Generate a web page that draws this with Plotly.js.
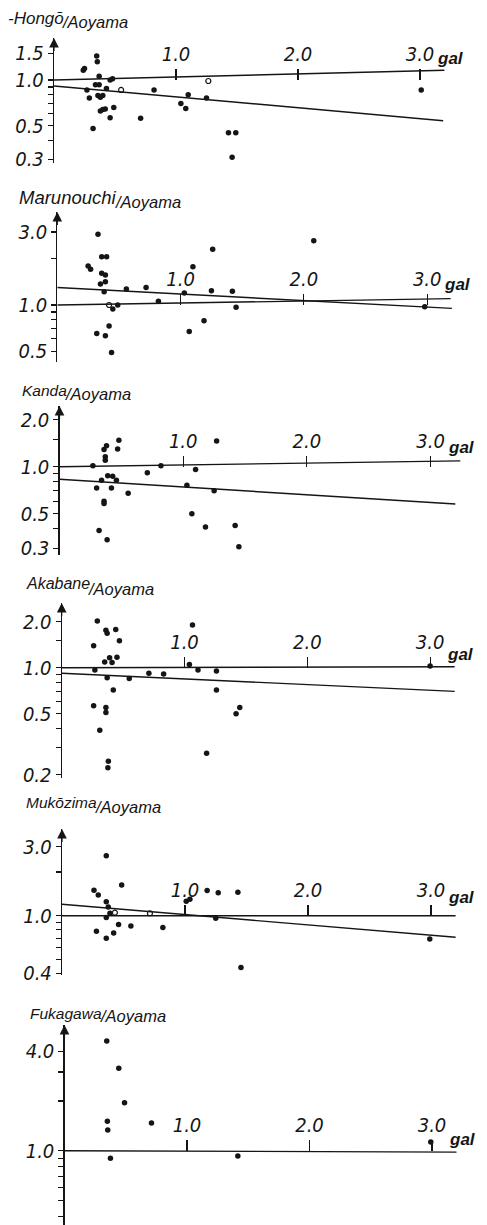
<!DOCTYPE html>
<html><head><meta charset="utf-8">
<script src="https://cdn.plot.ly/plotly-3.0.1.min.js"></script>
<style>body{margin:0;background:#fff}#chart{width:487px;height:1225px}</style>
</head><body><div id="chart"></div>
<script>
// ---------------- DATA ----------------
const stationNames = ['-Hongō', 'Marunouchi', 'Kanda', 'Akabane', 'Mukōzima', 'Fukagawa'];
const referenceName = 'Aoyama';
const xTickVals = [1, 2, 3];
const xTickText = ['1.0', '2.0', '3.0'];
const xUnit = 'gal';

// Hongō / Aoyama
const hongoX = [0.24,0.25,0.35,0.355,0.37,0.27,0.34,0.37,0.29,0.36,0.38,0.40,0.43,0.46,0.48,0.38,0.40,0.42,0.49,0.46,0.32,0.71,0.82,1.04,1.08,1.10,1.25,1.43,1.49,1.46,3.01];
const hongoY = [1.16,1.19,1.44,1.32,1.06,0.86,0.93,0.93,0.76,0.79,0.77,0.79,0.88,1.00,1.02,0.625,0.64,0.645,0.66,0.565,0.48,0.56,0.86,0.70,0.65,0.80,0.76,0.45,0.45,0.31,0.86];
const hongoOpenX = [0.55, 1.265];
const hongoOpenY = [0.86, 0.985];
const hongoLineAX = [0, 3.2],  hongoLineAY = [1.0, 1.16];
const hongoLineBX = [0, 3.19], hongoLineBY = [0.913, 0.54];
const hongoTickVals = [0.3,0.4,0.5,0.6,0.7,0.8,0.9,1.0,1.5];
const hongoTickText = ['0.3','','0.5','','','','','1.0','1.5'];

// Marunouchi / Aoyama
const maruX = [0.33,0.36,0.40,0.25,0.27,0.36,0.39,0.39,0.35,0.38,0.45,0.49,0.56,0.72,0.82,1.03,1.10,1.26,1.25,1.42,1.45,1.19,1.07,0.42,0.32,0.39,0.44,2.08,2.98];
const maruY = [2.90,2.07,2.07,1.80,1.71,1.61,1.57,1.42,1.37,1.22,0.94,1.00,1.27,1.30,1.06,1.20,1.78,2.31,1.24,1.23,0.966,0.79,0.67,0.73,0.65,0.63,0.49,2.63,0.975];
const maruOpenX = [0.42];
const maruOpenY = [1.0];
const maruLineAX = [0, 3.19], maruLineAY = [1.0, 1.10];
const maruLineBX = [0, 3.2],  maruLineBY = [1.30, 0.95];
const maruTickVals = [0.5,0.6,0.7,0.8,0.9,1.0,2.0,3.0];
const maruTickText = ['0.5','','','','','1.0','','3.0'];

// Kanda / Aoyama
const kandaX = [0.27,0.36,0.38,0.37,0.37,0.48,0.47,0.39,0.34,0.43,0.46,0.30,0.42,0.555,0.36,0.36,0.32,0.385,0.71,0.82,1.10,1.03,1.27,1.25,1.07,1.18,1.42,1.45];
const kandaY = [1.015,1.29,1.36,1.16,1.10,1.48,1.30,0.876,0.82,0.87,0.82,0.73,0.73,0.675,0.58,0.60,0.39,0.34,0.915,1.015,0.96,0.76,1.46,0.70,0.50,0.41,0.42,0.307];
const kandaLineAX = [0, 3.24], kandaLineAY = [1.0, 1.09];
const kandaLineBX = [0, 3.2],  kandaLineBY = [0.83, 0.577];
const kandaTickVals = [0.3,0.4,0.5,0.6,0.7,0.8,0.9,1.0,1.5,2.0];
const kandaTickText = ['0.3','','0.5','','','','','1.0','','2.0'];

// Akabane / Aoyama
const akabaneX = [0.29,0.36,0.37,0.44,0.47,0.26,0.39,0.35,0.41,0.45,0.27,0.37,0.42,0.55,0.71,0.83,1.04,1.065,1.11,1.26,1.26,0.26,0.36,0.36,0.31,0.38,0.376,1.18,1.42,1.45,3.00];
const akabaneY = [2.02,1.76,1.68,1.78,1.50,1.39,1.16,1.09,1.08,1.17,0.966,0.86,0.715,0.85,0.92,0.91,1.05,1.90,0.966,0.95,0.715,0.565,0.55,0.51,0.39,0.245,0.222,0.276,0.50,0.55,1.025];
const akabaneLineAX = [0, 3.2], akabaneLineAY = [1.0, 1.015];
const akabaneLineBX = [0, 3.2], akabaneLineBY = [0.92, 0.70];
const akabaneTickVals = [0.2,0.3,0.4,0.5,0.6,0.7,0.8,0.9,1.0,1.5,2.0];
const akabaneTickText = ['0.2','','','0.5','','','','','1.0','','2.0'];

// Mukōzima / Aoyama
const mukoX = [0.36,0.26,0.295,0.485,0.36,0.376,0.39,0.36,0.46,0.56,0.28,0.42,0.36,0.82,1.01,1.04,1.18,1.27,1.43,1.25,1.455,2.99];
const mukoY = [2.59,1.50,1.39,1.63,1.25,1.15,1.04,0.97,0.87,0.85,0.78,0.76,0.70,0.83,1.26,1.30,1.49,1.44,1.45,0.96,0.44,0.69];
const mukoOpenX = [0.43, 0.715];
const mukoOpenY = [1.05, 1.04];
const mukoLineAX = [0, 3.2], mukoLineAY = [1.0, 1.0];
const mukoLineBX = [0, 3.2], mukoLineBY = [1.20, 0.71];
const mukoTickVals = [0.4,0.5,0.6,0.7,0.8,0.9,1.0,2.0,3.0];
const mukoTickText = ['0.4','','','','','','1.0','','3.0'];

// Fukagawa / Aoyama
const fukaX = [0.345,0.443,0.49,0.35,0.353,0.71,0.375,1.415,2.99];
const fukaY = [4.62,3.16,1.95,1.51,1.335,1.47,0.90,0.93,1.13];
const fukaLineAX = [0, 3.2], fukaLineAY = [1.0, 0.98];
const fukaTickVals = [0.4,0.5,0.6,0.7,0.8,0.9,1.0,2.0,3.0,4.0];
const fukaTickText = ['0.4','','','','','','1.0','','','4.0'];

// ---------------- LAYOUT (pixel geometry of each panel) ----------------
const W = 487, H = 1225, XR = 470;
const geom = [
  {px0:54,   g:122,   py1:80,     s:152, top:38,   bottom:163,  slash:62,  nameY:19,   aoY:22,   nameSize:17,   galShift:22},
  {px0:57.3, g:123.3, py1:305,    s:153, top:212,  bottom:362,  slash:115, nameY:197,  aoY:202,  nameSize:18.5, galShift:21},
  {px0:59.5, g:123.7, py1:466.7,  s:156, top:406,  bottom:555,  slash:65,  nameY:390,  aoY:394,  nameSize:15.5, galShift:19},
  {px0:61.7, g:122.8, py1:667.7,  s:153, top:603,  bottom:778,  slash:88,  nameY:584,  aoY:589,  nameSize:16,   galShift:13},
  {px0:62,   g:123,   py1:915.7,  s:145, top:829,  bottom:975,  slash:95,  nameY:802,  aoY:807,  nameSize:15.5, galShift:18},
  {px0:64.5, g:122.5, py1:1150.7, s:165, top:1025, bottom:1225, slash:100, nameY:1013, aoY:1016, nameSize:15.5, galShift:11}
];
const panelData = [
  {x:hongoX, y:hongoY, ox:hongoOpenX, oy:hongoOpenY, ax:hongoLineAX, ay:hongoLineAY, bx:hongoLineBX, by:hongoLineBY, tv:hongoTickVals, tt:hongoTickText},
  {x:maruX, y:maruY, ox:maruOpenX, oy:maruOpenY, ax:maruLineAX, ay:maruLineAY, bx:maruLineBX, by:maruLineBY, tv:maruTickVals, tt:maruTickText},
  {x:kandaX, y:kandaY, ax:kandaLineAX, ay:kandaLineAY, bx:kandaLineBX, by:kandaLineBY, tv:kandaTickVals, tt:kandaTickText},
  {x:akabaneX, y:akabaneY, ax:akabaneLineAX, ay:akabaneLineAY, bx:akabaneLineBX, by:akabaneLineBY, tv:akabaneTickVals, tt:akabaneTickText},
  {x:mukoX, y:mukoY, ox:mukoOpenX, oy:mukoOpenY, ax:mukoLineAX, ay:mukoLineAY, bx:mukoLineBX, by:mukoLineBY, tv:mukoTickVals, tt:mukoTickText},
  {x:fukaX, y:fukaY, ax:fukaLineAX, ay:fukaLineAY, tv:fukaTickVals, tt:fukaTickText}
];

const INK = '#151515';
const tickFont = {family:'Liberation Sans Narrow, DejaVu Sans Condensed, Liberation Sans, sans-serif', size:20, style:'italic', color:INK};
const titleFam = 'Liberation Sans, sans-serif';

const traces = [];
const layout = {
  width: W, height: H, margin:{l:0,r:0,t:0,b:0},
  paper_bgcolor:'#fff', plot_bgcolor:'rgba(0,0,0,0)',
  showlegend:false, annotations:[]
};

panelData.forEach((d, i) => {
  const G = geom[i];
  const n = i === 0 ? '' : String(i + 1);
  const xa = 'x' + n, ya = 'y' + n;
  const lineStyle = {color:INK, width:1.4};
  if (d.ax) traces.push({type:'scatter', mode:'lines', x:d.ax, y:d.ay, xaxis:xa, yaxis:ya, line:lineStyle, hoverinfo:'skip', cliponaxis:false});
  if (d.bx) traces.push({type:'scatter', mode:'lines', x:d.bx, y:d.by, xaxis:xa, yaxis:ya, line:lineStyle, hoverinfo:'skip', cliponaxis:false});
  traces.push({type:'scatter', mode:'markers', x:d.x, y:d.y, xaxis:xa, yaxis:ya,
    marker:{color:INK, size:5.5}, cliponaxis:false});
  if (d.ox) traces.push({type:'scatter', mode:'markers', x:d.ox, y:d.oy, xaxis:xa, yaxis:ya,
    marker:{symbol:'circle-open', color:INK, size:5, line:{width:1.2, color:INK}}, cliponaxis:false});

  const yTopLog = (G.py1 - G.top) / G.s;
  const yBotLog = -(G.bottom - G.py1) / G.s;
  layout['xaxis' + n] = {
    domain:[G.px0 / W, XR / W], range:[0, (XR - G.px0) / G.g],
    anchor:'free', position: 1 - G.py1 / H, side:'top',
    showline:false, showgrid:false, zeroline:false,
    ticks:'outside', ticklen:11, tickwidth:1.2, tickcolor:INK,
    tickvals:xTickVals, ticktext:xTickText, tickfont:tickFont, fixedrange:true
  };
  layout['yaxis' + n] = {
    type:'log', domain:[1 - G.bottom / H, 1 - G.top / H], range:[yBotLog, yTopLog],
    anchor:xa, showline:true, linewidth:1.2, linecolor:INK, showgrid:false, zeroline:false,
    ticks:'outside', ticklen:5, tickwidth:1.1, tickcolor:INK,
    tickvals:d.tv, ticktext:d.tt, tickfont:tickFont, fixedrange:true
  };
  // title: station / Aoyama
  layout.annotations.push({xref:'paper', yref:'paper', x:(G.slash + 4) / W, y:1 - G.nameY / H,
    xanchor:'right', yanchor:'middle', showarrow:false, text:stationNames[i],
    font:{family:titleFam, size:G.nameSize, style:'italic', color:INK}});
  layout.annotations.push({xref:'paper', yref:'paper', x:(G.slash - 2) / W, y:1 - G.aoY / H,
    xanchor:'left', yanchor:'middle', showarrow:false, text:'/' + referenceName,
    font:{family:titleFam, size:16.5, style:'italic', color:INK}});
  // arrow head at the top of the y axis
  layout.annotations.push({xref:'paper', yref:'paper', x:G.px0 / W, y:1 - G.top / H,
    axref:'pixel', ayref:'pixel', ax:0, ay:16, showarrow:true, arrowhead:2, arrowsize:1.6,
    arrowwidth:1.2, arrowcolor:INK, text:' ', font:{size:2}});
  // unit label
  layout.annotations.push({xref:'paper', yref:'paper', x:(G.px0 + 3 * G.g) / W, y:1 - G.py1 / H,
    xanchor:'left', yanchor:'middle', xshift:15, yshift:G.galShift, showarrow:false, text:'<b>' + xUnit + '</b>',
    font:{family:'Liberation Sans, sans-serif', size:17, style:'italic', color:INK}});
});

Plotly.newPlot('chart', traces, layout, {staticPlot:true, displayModeBar:false});
</script>
</body></html>
